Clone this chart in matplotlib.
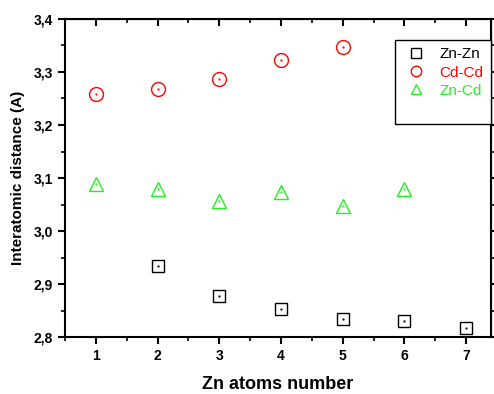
import matplotlib
matplotlib.use("Agg")
import matplotlib.pyplot as plt
from matplotlib.lines import Line2D
from matplotlib.ticker import MultipleLocator

plt.rcParams['font.family'] = ['Liberation Sans', 'DejaVu Sans']

# data
x_znzn = [2, 3, 4, 5, 6, 7]
y_znzn = [2.934, 2.878, 2.853, 2.834, 2.830, 2.818]
x_cdcd = [1, 2, 3, 4, 5]
y_cdcd = [3.258, 3.267, 3.287, 3.323, 3.347]
x_zncd = [1, 2, 3, 4, 5, 6]
y_zncd = [3.089, 3.080, 3.057, 3.073, 3.047, 3.079]

fig = plt.figure(figsize=(4.94, 3.94), dpi=100)
ax = fig.add_axes([0.1316, 0.144, 0.862, 0.808])

green = '#22ee22'
h1, = ax.plot(x_znzn, y_znzn, 's', ms=9, mfc='none', mec='black', mew=1.0, label='Zn-Zn')
h2, = ax.plot(x_cdcd, y_cdcd, 'o', ms=10, mfc='none', mec='red', mew=1.0, label='Cd-Cd')
h3, = ax.plot(x_zncd, y_zncd, '^', ms=10, mfc='none', mec=green, mew=1.0, label='Zn-Cd')
# little centre dots, Origin style
for xs, ys, c in [(x_znzn, y_znzn, 'black'), (x_cdcd, y_cdcd, 'red'), (x_zncd, y_zncd, green)]:
    ax.plot(xs, ys, '.', ms=1.2, color=c)

ax.set_xlim(0.5, 7.4)
ax.set_ylim(2.8, 3.4)
ax.xaxis.set_major_locator(MultipleLocator(1))
ax.xaxis.set_minor_locator(MultipleLocator(0.5))
ax.yaxis.set_major_locator(MultipleLocator(0.1))
ax.yaxis.set_minor_locator(MultipleLocator(0.05))
yt = [2.8, 2.9, 3.0, 3.1, 3.2, 3.3, 3.4]
ax.set_yticks(yt)
ax.set_yticklabels([f'{v:.1f}'.replace('.', ',') for v in yt])

for s in ax.spines.values():
    s.set_linewidth(1.5)
ax.tick_params(which='major', direction='out', length=5, width=1.5, labelsize=10)
ax.tick_params(which='minor', direction='out', length=3, width=1.2)
for lab in ax.get_xticklabels() + ax.get_yticklabels():
    lab.set_fontweight('bold')

top = ax.secondary_xaxis('top')
top.xaxis.set_major_locator(MultipleLocator(1))
top.xaxis.set_minor_locator(MultipleLocator(0.5))
top.tick_params(which='major', direction='in', length=5, width=1.5, labeltop=False)
top.tick_params(which='minor', direction='in', length=3, width=1.2)

right = ax.secondary_yaxis('right')
right.yaxis.set_major_locator(MultipleLocator(0.1))
right.yaxis.set_minor_locator(MultipleLocator(0.05))
right.tick_params(which='major', direction='out', length=5, width=1.5, labelright=False)
right.tick_params(which='minor', direction='out', length=3, width=1.2)

ax.set_xlabel('Zn atoms number', fontsize=13, fontweight='bold', labelpad=9)
ax.set_ylabel('Interatomic distance (A)', fontsize=11, fontweight='bold', labelpad=6)

blank = Line2D([], [], linestyle='none')
leg = ax.legend([h1, h2, h3, blank], ['Zn-Zn', 'Cd-Cd', 'Zn-Cd', ' '],
                loc='upper right', bbox_to_anchor=(1.0, 0.935), fontsize=11,
                markerscale=0.75, frameon=True, fancybox=False, edgecolor='black',
                borderpad=0.5, handlelength=1.7, handletextpad=0.7,
                labelspacing=0.28, borderaxespad=0, framealpha=1)
leg.get_frame().set_linewidth(1.0)
for t, c in zip(leg.get_texts(), ['black', 'red', green]):
    t.set_color(c)

fig.savefig('out.png', dpi=100)
